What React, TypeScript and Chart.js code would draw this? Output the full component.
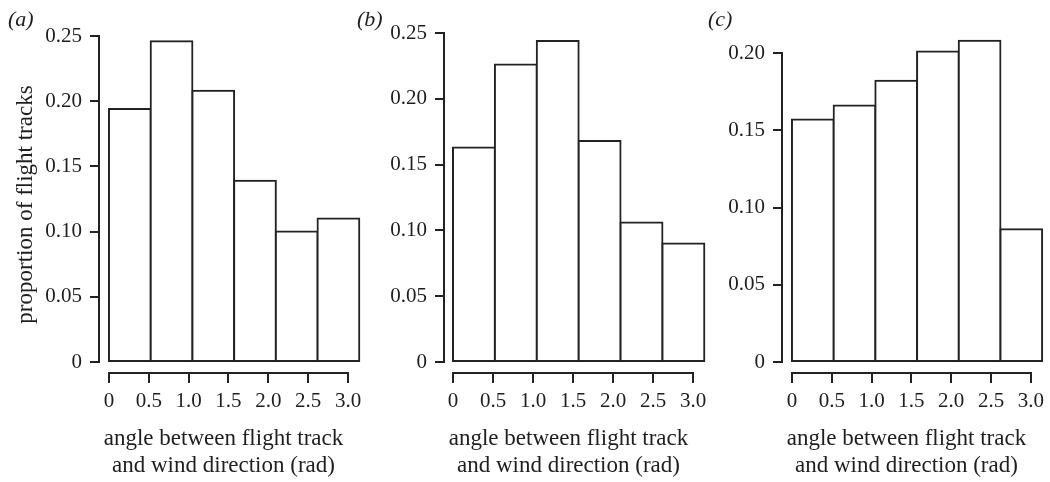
import React, { useEffect, useRef } from 'react';
import { Chart, registerables } from 'chart.js';

Chart.register(...registerables);

// ---- data ----
const binStarts = [0, 0.5236, 1.0472, 1.5708, 2.0944, 2.618];
const binWidth = 0.5236;
const panelLabels = ['(a)', '(b)', '(c)'];
const valuesA = [0.194, 0.246, 0.208, 0.139, 0.1, 0.11];
const valuesB = [0.163, 0.226, 0.244, 0.168, 0.106, 0.09];
const valuesC = [0.157, 0.166, 0.182, 0.201, 0.208, 0.086];
const xTicks = [0, 0.5, 1.0, 1.5, 2.0, 2.5, 3.0];
const yTicksAB = [0, 0.05, 0.1, 0.15, 0.2, 0.25];
const yTicksC = [0, 0.05, 0.1, 0.15, 0.2];
const xTitle = ['angle between flight track', 'and wind direction (rad)'];
const yTitle = 'proportion of flight tracks';

// ---- styles ----
const FONT = "'Liberation Serif', 'Times New Roman', serif";
const LINE = '#222222';
const TEXT = '#1e1e1e';
const H = 482;

type Panel = {
  label: string;
  values: number[];
  yTicks: number[];
  showYTitle: boolean;
  left: number;
  width: number;
  padLeft: number;
  padRight: number;
  yWidth: number;
  xMin: number;
  xMax: number;
  yMin: number;
  yMax: number;
  titlePadBottom: number;
};

const panels: Panel[] = [
  { label: panelLabels[0], values: valuesA, yTicks: yTicksAB, showYTitle: true, left: 0, width: 368, padLeft: 8, padRight: 20, yWidth: 91, xMin: -0.125, xMax: 3.0, yMin: -0.00844, yMax: 0.25, titlePadBottom: 5 },
  { label: panelLabels[1], values: valuesB, yTicks: yTicksAB, showYTitle: false, left: 350, width: 363, padLeft: 7, padRight: 20, yWidth: 87, xMin: -0.1125, xMax: 3.0, yMin: -0.00836, yMax: 0.2523, titlePadBottom: -1 },
  { label: panelLabels[2], values: valuesC, yTicks: yTicksC, showYTitle: false, left: 700, width: 350, padLeft: 8, padRight: 18, yWidth: 74, xMin: -0.125, xMax: 3.0, yMin: -0.00712, yMax: 0.2149, titlePadBottom: -1 },
];

const axisLinePlugin = {
  id: 'rAxisLines',
  afterDraw(chart: any) {
    const { ctx, chartArea, scales } = chart;
    const x = scales.x;
    const y = scales.y;
    const xt = x.ticks;
    const yt = y.ticks;
    ctx.save();
    ctx.strokeStyle = LINE;
    ctx.lineWidth = 2;
    ctx.lineCap = 'square';
    ctx.beginPath();
    const by = Math.round(chartArea.bottom);
    ctx.moveTo(Math.round(x.getPixelForValue(xt[0].value)), by);
    ctx.lineTo(Math.round(x.getPixelForValue(xt[xt.length - 1].value)), by);
    const lx = Math.round(chartArea.left);
    ctx.moveTo(lx, Math.round(y.getPixelForValue(yt[0].value)));
    ctx.lineTo(lx, Math.round(y.getPixelForValue(yt[yt.length - 1].value)));
    ctx.stroke();
    ctx.restore();
  },
};

function PanelChart({ p }: { p: Panel }) {
  const ref = useRef<HTMLCanvasElement | null>(null);
  useEffect(() => {
    if (!ref.current) return;
    const chart = new Chart(ref.current, {
      type: 'bar',
      data: {
        datasets: [
          {
            data: p.values.map((v, i) => ({ x: binStarts[i] + binWidth / 2, y: v })),
            backgroundColor: '#ffffff',
            borderColor: LINE,
            borderWidth: 2,
            borderSkipped: false,
            barPercentage: 1,
            categoryPercentage: 1,
            barThickness: 'flex',
            inflateAmount: 1,
            clip: false,
          } as any,
        ],
      },
      options: {
        responsive: false,
        maintainAspectRatio: false,
        animation: false,
        devicePixelRatio: 1,
        events: [],
        layout: { padding: { left: p.padLeft, right: p.padRight, top: 0, bottom: 0 } },
        plugins: {
          legend: { display: false },
          tooltip: { enabled: false },
          title: {
            display: true,
            text: p.label,
            align: 'start',
            position: 'top',
            color: TEXT,
            font: { family: FONT, size: 22, style: 'italic', weight: 'normal', lineHeight: 1 },
            padding: { top: 9, bottom: p.titlePadBottom },
          },
        },
        scales: {
          x: {
            type: 'linear',
            min: p.xMin,
            max: p.xMax,
            offset: false,
            bounds: 'data',
            afterBuildTicks: (s: any) => {
              s.ticks = xTicks.map((v) => ({ value: v }));
            },
            afterFit: (s: any) => {
              s.height = 109;
            },
            grid: { display: true, drawOnChartArea: false, drawTicks: true, tickLength: 10, lineWidth: 2, color: LINE, offset: false },
            border: { display: false },
            ticks: {
              autoSkip: false,
              maxRotation: 0,
              padding: 6,
              color: TEXT,
              font: { family: FONT, size: 21 },
              callback: (v: any) => (Number(v) === 0 ? '0' : Number(v).toFixed(1)),
            },
            title: {
              display: true,
              text: xTitle,
              color: TEXT,
              font: { family: FONT, size: 23, lineHeight: 1.15 },
              padding: { top: 0, bottom: 3 },
            },
          },
          y: {
            type: 'linear',
            min: p.yMin,
            max: p.yMax,
            bounds: 'data',
            afterBuildTicks: (s: any) => {
              s.ticks = p.yTicks.map((v) => ({ value: v }));
            },
            afterFit: (s: any) => {
              s.width = p.yWidth;
            },
            grid: { display: true, drawOnChartArea: false, drawTicks: true, tickLength: 9, lineWidth: 2, color: LINE },
            border: { display: false },
            ticks: {
              padding: 8,
              color: TEXT,
              font: { family: FONT, size: 21 },
              callback: (v: any) => (Number(v) === 0 ? '0' : Number(v).toFixed(2)),
            },
            title: {
              display: p.showYTitle,
              text: yTitle,
              color: TEXT,
              font: { family: FONT, size: 23, lineHeight: 1.15 },
              padding: { top: 5, bottom: 0 },
            },
          },
        },
      } as any,
      plugins: [axisLinePlugin],
    });
    return () => chart.destroy();
  }, [p]);
  return (
    <canvas
      ref={ref}
      width={p.width}
      height={H}
      style={{ position: 'absolute', left: p.left, top: 0, width: p.width, height: H }}
    />
  );
}

export default function App() {
  return (
    <div style={{ position: 'absolute', left: 0, top: 0, width: 1050, height: H, background: '#ffffff', overflow: 'hidden' }}>
      {panels.map((p) => (
        <PanelChart key={p.label} p={p} />
      ))}
    </div>
  );
}
